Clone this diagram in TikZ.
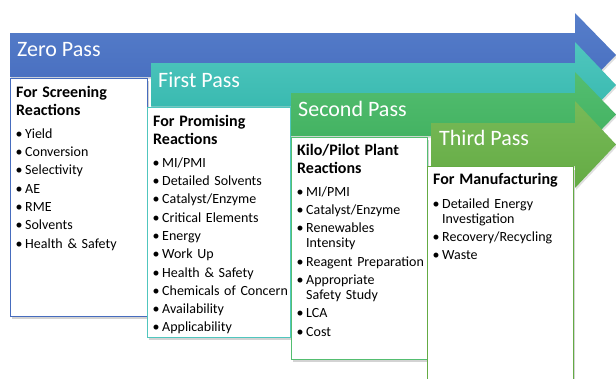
\documentclass[tikz,border=0pt]{standalone}
\usepackage{fontspec}
\setmainfont{Carlito}
\usepackage{tikz}
\usetikzlibrary{shadows}
\usepackage{xcolor}

\definecolor{zeroblue}{RGB}{70,108,190}
\definecolor{zerobluetop}{RGB}{86,126,202}
\definecolor{firstteal}{RGB}{50,182,172}
\definecolor{firsttealtop}{RGB}{80,198,190}
\definecolor{secondgreen}{RGB}{62,175,94}
\definecolor{secondgreentop}{RGB}{84,190,112}
\definecolor{thirdgreen}{RGB}{100,171,68}
\definecolor{thirdgreentop}{RGB}{120,186,88}

\tikzstyle{pass}=[draw=none, drop shadow={shadow xshift=1pt, shadow yshift=-2pt, opacity=0.25}]
\tikzstyle{passlabel}=[anchor=base west, inner sep=0pt, text=white, font=\fontsize{22}{26}\selectfont]
\tikzstyle{listbox}=[fill=white, line width=0.9pt, drop shadow={shadow xshift=1.5pt, shadow yshift=-3pt, opacity=0.35}]
\tikzstyle{listtext}=[anchor=north west, inner sep=0pt, text width=140pt, align=left,
  font=\fontsize{14}{15}\selectfont,
  execute at begin node={\setlength{\parindent}{0pt}\setlength{\parskip}{3.3pt}}]

\newcommand{\listhead}[1]{{\fontsize{16}{18}\selectfont\bfseries\strut #1\par}\vspace{4.7pt}}
\newcommand{\bul}[1]{\par\hangindent=9pt\hangafter=1\noindent\hspace*{-0.5pt}\makebox[9.5pt][l]{\textbullet}#1}

\begin{document}
\begin{tikzpicture}[x=1pt, y=-1pt]

\useasboundingbox (0,0) rectangle (616,378);
\clip (0,0) rectangle (616,378);

% zero pass
\path[pass, top color=zerobluetop, bottom color=zeroblue] (10,33) -- (575,33) -- (575,13) -- (616,55) -- (575,97) -- (575,77) -- (10,77) -- cycle;
\node[passlabel] (zerotitle) at (17,56) {Zero Pass};
\draw[listbox, draw=zeroblue] (10,78) rectangle (147,316);
\node[listtext] (zerolist) at (16,84.4) {\listhead{For Screening\\Reactions}
\bul{Yield}
\bul{Conversion}
\bul{Selectivity}
\bul{AE}
\bul{RME}
\bul{Solvents}
\bul{Health \& Safety}};

% first pass
\path[pass, top color=firsttealtop, bottom color=firstteal] (151,63) -- (575,63) -- (575,42) -- (616,85) -- (575,128) -- (575,106.5) -- (151,106.5) -- cycle;
\node[passlabel] (firsttitle) at (158,87) {First Pass};
\draw[listbox, draw=firsttealtop] (147,107) rectangle (290,337);
\node[listtext] (firstlist) at (153,113.4) {\listhead{For Promising\\Reactions}
\bul{MI/PMI}
\bul{Detailed Solvents}
\bul{Catalyst/Enzyme}
\bul{Critical Elements}
\bul{Energy}
\bul{Work Up}
\bul{Health \& Safety}
\bul{Chemicals of Concern}
\bul{Availability}
\bul{Applicability}};

% second pass
\path[pass, top color=secondgreentop, bottom color=secondgreen] (291,93) -- (575,93) -- (575,72) -- (616,114.5) -- (575,157) -- (575,136) -- (291,136) -- cycle;
\node[passlabel] (secondtitle) at (298,116) {Second Pass};
\draw[listbox, draw=secondgreentop] (291,137) rectangle (427,359);
\node[listtext] (secondlist) at (297,142.4) {\listhead{Kilo/Pilot Plant\\Reactions}
\bul{MI/PMI}
\bul{Catalyst/Enzyme}
\bul{Renewables\newline Intensity}
\bul{Reagent Preparation}
\bul{Appropriate\newline Safety Study}
\bul{LCA}
\bul{Cost}};

% third pass
\path[pass, top color=thirdgreentop, bottom color=thirdgreen] (431,123) -- (575,123) -- (575,101) -- (616,144.5) -- (575,188) -- (575,166) -- (431,166) -- cycle;
\node[passlabel] (thirdtitle) at (439,145) {Third Pass};
\draw[listbox, draw=thirdgreen] (427,166.5) rectangle (573,390);
\node[listtext] (thirdlist) at (433,171.4) {\listhead{For Manufacturing}
\bul{Detailed Energy\newline Investigation}
\bul{Recovery/Recycling}
\bul{Waste}};

\end{tikzpicture}
\end{document}
